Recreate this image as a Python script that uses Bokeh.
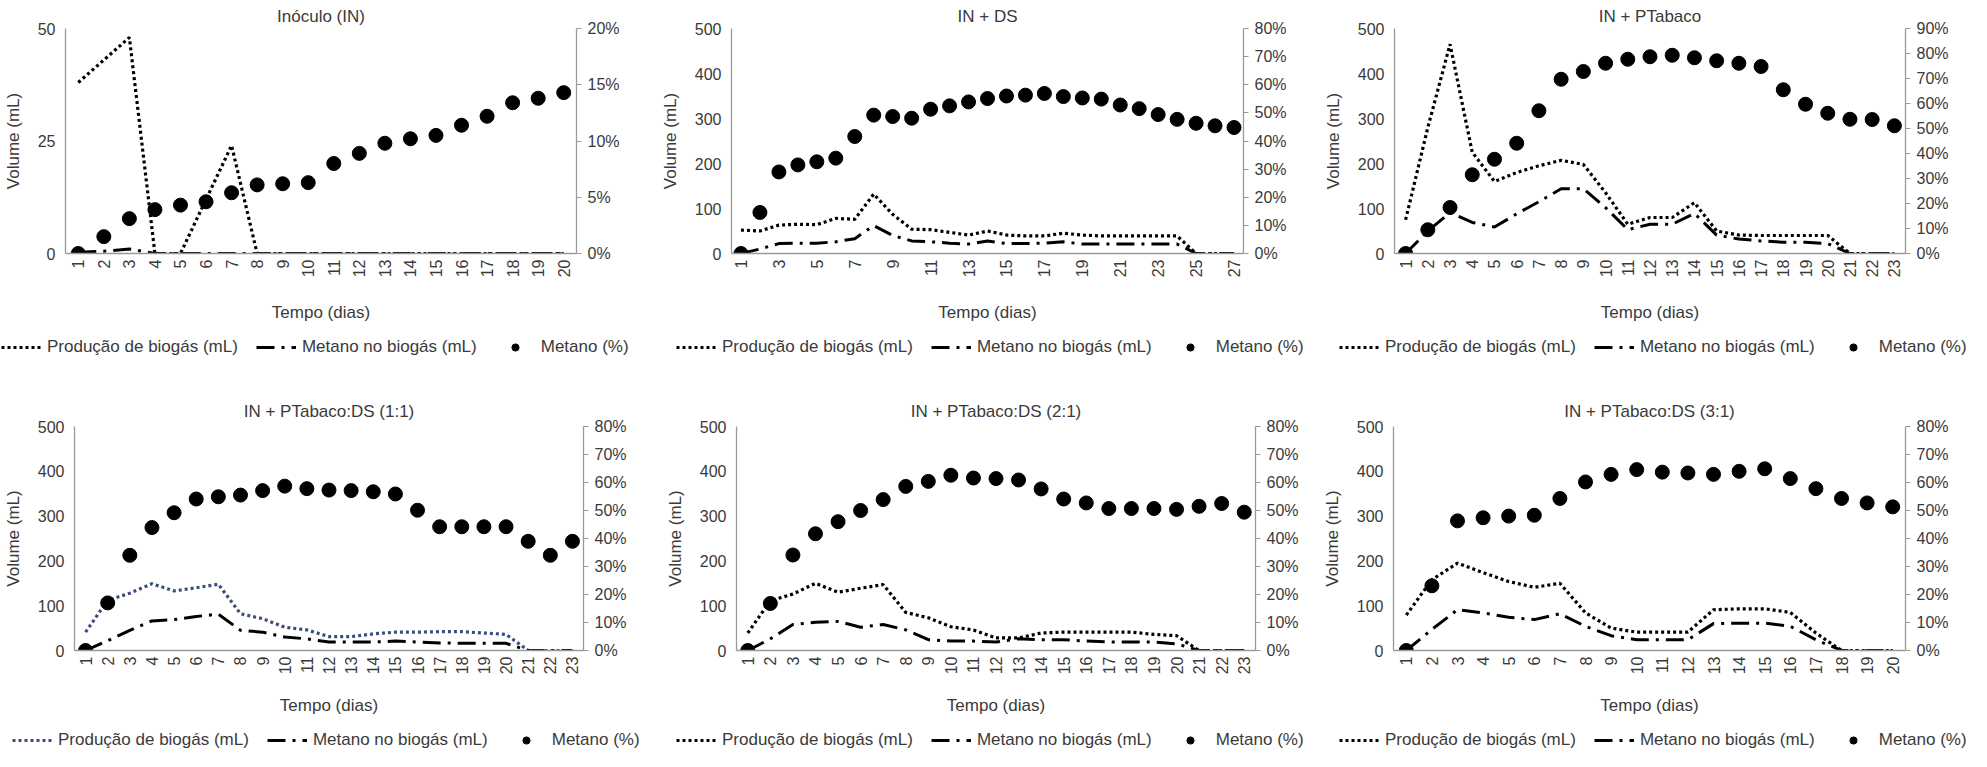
from bokeh.plotting import figure
from bokeh.models import (Range1d, LinearAxis, FixedTicker, PrintfTickFormatter,
                          Legend, LegendItem)
from bokeh.layouts import row, column
from bokeh.embed import file_html
from bokeh.resources import INLINE

# ---------------- data ----------------
titles = ["Inóculo (IN)", "IN + DS", "IN + PTabaco",
          "IN + PTabaco:DS (1:1)", "IN + PTabaco:DS (2:1)", "IN + PTabaco:DS (3:1)"]

days_in = list(range(1, 21))
biogas_in = [38, 43, 48, 0, 0, 12, 24, 0, 0, 0, 0, 0, 0, 0, 0, 0, 0, 0, 0, 0]
metano_ml_in = [0.3, 0.5, 1.0, 0, 0, 0, 0, 0, 0, 0, 0, 0, 0, 0, 0, 0, 0, 0, 0, 0]
metano_pct_in = [0, 1.5, 3.1, 3.9, 4.3, 4.6, 5.4, 6.1, 6.2, 6.3, 8.0, 8.9, 9.8, 10.2,
                 10.5, 11.4, 12.2, 13.4, 13.8, 14.3]

days_ds = list(range(1, 28))
biogas_ds = [52, 50, 63, 65, 64, 78, 76, 132, 87, 54, 53, 47, 41, 50, 41, 39, 39, 45,
             41, 39, 39, 39, 39, 39, 0, 0, 0]
metano_ml_ds = [0, 10, 22, 23, 23, 26, 33, 62, 40, 28, 26, 23, 21, 28, 22, 22, 23, 26,
                21, 21, 21, 21, 21, 21, 0, 0, 0]
metano_pct_ds = [0, 14.6, 29.0, 31.5, 32.6, 33.9, 41.6, 49.2, 48.7, 48.1, 51.3, 52.5,
                 53.9, 55.1, 56.0, 56.3, 56.9, 55.8, 55.3, 54.9, 52.8, 51.5, 49.4, 47.7,
                 46.3, 45.4, 44.8]

days_pt = list(range(1, 24))
biogas_pt = [75, 280, 465, 225, 160, 180, 195, 207, 198, 135, 65, 80, 80, 113, 50, 41,
             40, 40, 40, 40, 0, 0, 0]
metano_ml_pt = [0, 50, 91, 69, 59, 88, 115, 144, 144, 102, 53, 65, 65, 89, 41, 32, 28,
                25, 25, 22, 0, 0, 0]
metano_pct_pt = [0, 9.5, 18.4, 31.5, 37.7, 44.1, 57.1, 69.7, 72.8, 76.1, 77.7, 78.7,
                 79.3, 78.3, 77.1, 76.1, 74.8, 65.5, 59.7, 56.1, 53.7, 53.6, 51.1]

days_11 = list(range(1, 24))
biogas_11 = [41, 112, 128, 149, 133, 140, 148, 82, 71, 52, 46, 31, 31, 37, 41, 41, 42,
             42, 39, 36, 0, 0, 0]
metano_ml_11 = [0, 22, 45, 66, 69, 76, 81, 45, 41, 30, 26, 19, 19, 19, 21, 19, 17, 16,
                16, 16, 0, 0, 0]
metano_pct_11 = [0, 17.0, 34.0, 43.9, 49.2, 54.1, 54.9, 55.5, 57.1, 58.7, 57.8, 57.3,
                 57.1, 56.7, 55.9, 50.1, 44.2, 44.2, 44.2, 44.2, 39.0, 34.0, 39.0]

days_21 = list(range(1, 24))
biogas_21 = [39, 111, 126, 150, 130, 139, 147, 85, 73, 53, 46, 28, 28, 39, 41, 41, 41,
             41, 36, 33, 0, 0, 0]
metano_ml_21 = [0, 26, 58, 63, 65, 52, 58, 46, 24, 21, 21, 19, 26, 24, 24, 21, 19, 19,
                19, 15, 0, 0, 0]
metano_pct_21 = [0, 16.8, 34.1, 41.7, 46.0, 50.0, 53.9, 58.6, 60.4, 62.6, 61.6, 61.4,
                 60.9, 57.7, 54.1, 52.7, 50.7, 50.7, 50.7, 50.4, 51.5, 52.5, 49.4]

days_31 = list(range(1, 21))
biogas_31 = [79, 158, 195, 174, 154, 141, 150, 84, 50, 41, 41, 41, 91, 93, 93, 85, 39,
             0, 0, 0]
metano_ml_31 = [0, 47, 91, 84, 74, 69, 82, 54, 33, 24, 24, 24, 60, 61, 61, 54, 24, 0, 0, 0]
metano_pct_31 = [0, 23.1, 46.3, 47.4, 48.0, 48.3, 54.3, 60.2, 62.9, 64.6, 63.7, 63.4,
                 62.9, 64.0, 64.9, 61.4, 57.8, 54.3, 52.7, 51.3]

vol_ticks_small = [0, 25, 50]
vol_ticks = [0, 100, 200, 300, 400, 500]
pct_ticks_20 = [0, 5, 10, 15, 20]
pct_ticks_80 = [0, 10, 20, 30, 40, 50, 60, 70, 80]
pct_ticks_90 = [0, 10, 20, 30, 40, 50, 60, 70, 80, 90]

series_names = ["Produção de biogás (mL)", "Metano no biogás (mL)", "Metano (%)"]
x_label = "Tempo (dias)"
y_label = "Volume (mL)"

FONT = "Liberation Sans"
TXT = "#3a3a3a"
AXC = "#9a9a9a"
DOT_DASH = "3 3"
DOT_W = 3.2
DASH_DOT = "18 7 3 7"
MARK = 14
BLUE_DOT = "#3b4e7a"


def style_axis(ax, font_size="16px"):
    ax.major_label_text_font = FONT
    ax.major_label_text_font_size = font_size
    ax.major_label_text_color = TXT
    ax.axis_label_text_font = FONT
    ax.axis_label_text_font_size = "17px"
    ax.axis_label_text_font_style = "normal"
    ax.axis_label_text_color = TXT
    ax.axis_line_color = AXC
    ax.axis_line_width = 1.3
    ax.minor_tick_line_color = None
    ax.major_tick_line_color = AXC


def make_panel(title, days, biogas, ml, pct, ymax, yticks, pmax, pticks, xticks,
               fig_w, fig_h, b_left, frame_w, b_top, frame_h, title_standoff,
               xlabel_standoff, dot_color="black"):
    p = figure(width=fig_w, height=fig_h, output_backend="svg", toolbar_location=None,
               x_range=Range1d(0.5, len(days) + 0.5), y_range=Range1d(0, ymax),
               min_border_left=b_left, min_border_right=fig_w - b_left - frame_w,
               min_border_top=b_top, min_border_bottom=fig_h - b_top - frame_h,
               outline_line_color=None)
    p.title.text = title
    p.title.align = "center"
    p.title.text_font = FONT
    p.title.text_font_size = "17px"
    p.title.text_font_style = "normal"
    p.title.text_color = TXT
    p.title.standoff = title_standoff
    p.grid.visible = False
    p.extra_y_ranges = {"pct": Range1d(0, pmax)}

    xa = p.xaxis[0]
    xa.ticker = FixedTicker(ticks=xticks)
    xa.major_label_orientation = 1.5708
    xa.major_tick_out = 0
    xa.major_tick_in = 0
    xa.major_label_standoff = 6
    xa.axis_label = x_label
    xa.axis_label_standoff = xlabel_standoff
    style_axis(xa, "16px")

    ya = p.yaxis[0]
    ya.ticker = FixedTicker(ticks=yticks)
    ya.major_tick_out = 0
    ya.major_tick_in = 0
    ya.major_label_standoff = 10
    ya.axis_label = y_label
    ya.axis_label_standoff = 12
    style_axis(ya)

    ra = LinearAxis(y_range_name="pct", ticker=FixedTicker(ticks=pticks),
                    formatter=PrintfTickFormatter(format="%d%%"))
    ra.major_tick_out = 5
    ra.major_tick_in = 0
    ra.major_label_standoff = 6
    style_axis(ra)
    p.add_layout(ra, "right")

    p.line(days, biogas, line_color=dot_color, line_width=DOT_W, line_dash=DOT_DASH)
    p.line(days, ml, line_color="black", line_width=3, line_dash=DASH_DOT)
    p.scatter(days, pct, y_range_name="pct", size=MARK, color="black")
    return p


def make_legend_strip(width, height, panels, xs, y):
    # one strip per row holding the three legends; series are drawn out of view
    lg = figure(width=width, height=height, output_backend="svg", toolbar_location=None,
                x_range=Range1d(-1000, -999), y_range=Range1d(-1000, -999),
                x_axis_location=None, y_axis_location=None, min_border=0,
                outline_line_color=None)
    lg.grid.visible = False
    for (days, biogas, ml, pct, dot_color), x in zip(panels, xs):
        r1 = lg.line(days, biogas, line_color=dot_color, line_width=DOT_W,
                     line_dash=DOT_DASH)
        r2 = lg.line(days, ml, line_color="black", line_width=3, line_dash=DASH_DOT)
        r3 = lg.scatter(days, pct, size=MARK, color="black")
        legend = Legend(items=[LegendItem(label=series_names[0], renderers=[r1]),
                               LegendItem(label=series_names[1], renderers=[r2]),
                               LegendItem(label=series_names[2], renderers=[r3])],
                        orientation="horizontal", location=(x, y),
                        glyph_width=40, glyph_height=18, label_height=18,
                        label_standoff=6, spacing=18,
                        padding=0, margin=0, border_line_color=None,
                        background_fill_alpha=0,
                        label_text_font=FONT, label_text_font_size="17px",
                        label_text_color=TXT)
        lg.add_layout(legend)
    return lg


odd_ds = [d for d in days_ds if d % 2 == 1]

p1 = make_panel(titles[0], days_in, biogas_in, metano_ml_in, metano_pct_in, 50,
                vol_ticks_small, 20, pct_ticks_20, days_in,
                657, 332, 59, 517, 28, 225, 6, 23)
p2 = make_panel(titles[1], days_ds, biogas_ds, metano_ml_ds, metano_pct_ds, 500,
                vol_ticks, 80, pct_ticks_80, odd_ds,
                657, 332, 71, 515, 28, 225, 6, 23)
p3 = make_panel(titles[2], days_pt, biogas_pt, metano_ml_pt, metano_pct_pt, 500,
                vol_ticks, 90, pct_ticks_90, days_pt,
                657, 332, 80, 511, 28, 225, 6, 23)
p4 = make_panel(titles[3], days_11, biogas_11, metano_ml_11, metano_pct_11, 500,
                vol_ticks, 80, pct_ticks_80, days_11,
                657, 347, 69, 514, 51, 224, 12, 19, dot_color=BLUE_DOT)
p5 = make_panel(titles[4], days_21, biogas_21, metano_ml_21, metano_pct_21, 500,
                vol_ticks, 80, pct_ticks_80, days_21,
                657, 347, 79, 519, 51, 224, 12, 19)
p6 = make_panel(titles[5], days_31, biogas_31, metano_ml_31, metano_pct_31, 500,
                vol_ticks, 80, pct_ticks_80, days_31,
                657, 347, 79, 512, 51, 224, 12, 19)

leg_top = make_legend_strip(
    1971, 43,
    [(days_in, biogas_in, metano_ml_in, metano_pct_in, "black"),
     (days_ds, biogas_ds, metano_ml_ds, metano_pct_ds, "black"),
     (days_pt, biogas_pt, metano_ml_pt, metano_pct_pt, "black")],
    [1, 676, 1339], 18)
leg_bottom = make_legend_strip(
    1971, 29,
    [(days_11, biogas_11, metano_ml_11, metano_pct_11, BLUE_DOT),
     (days_21, biogas_21, metano_ml_21, metano_pct_21, "black"),
     (days_31, biogas_31, metano_ml_31, metano_pct_31, "black")],
    [12, 676, 1339], 1)

layout = column(row(p1, p2, p3), leg_top, row(p4, p5, p6), leg_bottom)

open("out.html", "w").write(file_html(layout, INLINE))
